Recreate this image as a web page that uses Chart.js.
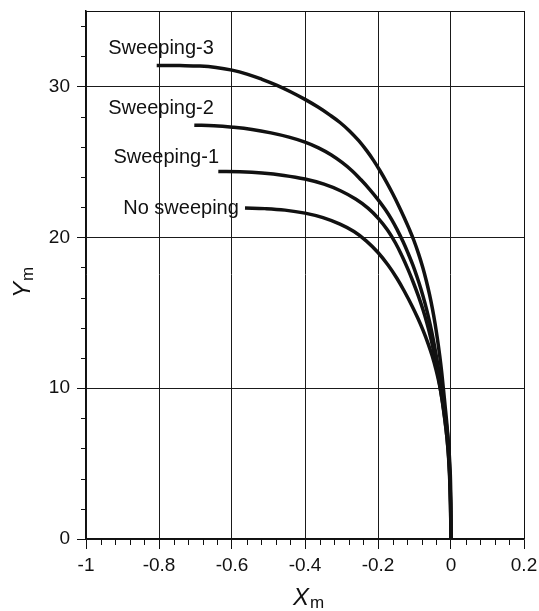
<!DOCTYPE html>
<html>
<head>
<meta charset="utf-8">
<script src="https://cdn.jsdelivr.net/npm/chart.js@4/dist/chart.umd.min.js"></script>
<style>
  html, body { margin: 0; padding: 0; background: #fff; }
</style>
</head>
<body>
<canvas id="trajChart" width="539" height="611"></canvas>
<script>
// ── Series names (also used as in-plot labels)
const seriesNames = ['Sweeping-3', 'Sweeping-2', 'Sweeping-1', 'No sweeping'];

// ── Trajectories: Xm and Ym for each case
const sweep3X = [-0.8063, -0.7425, -0.6877, -0.6438, -0.6, -0.5589, -0.5178, -0.4767, -0.4384, -0.4,
                 -0.3644, -0.3315, -0.3041, -0.2781, -0.2534, -0.2315, -0.2123, -0.1945, -0.1767, -0.16,
                 -0.1441, -0.129, -0.1148, -0.1014, -0.0888, -0.0775, -0.0677, -0.0589, -0.0507, -0.0436,
                 -0.037, -0.031, -0.0255, -0.0208, -0.0159, -0.0107, -0.0066, -0.0036, -0.0014, 0];
const sweep3Y = [31.39, 31.38, 31.35, 31.26, 31.08, 30.82, 30.47, 30.07, 29.63, 29.14,
                 28.63, 28.10, 27.61, 27.05, 26.42, 25.76, 25.10, 24.41, 23.66, 22.90,
                 22.13, 21.35, 20.57, 19.77, 18.90, 18.01, 17.12, 16.21, 15.24, 14.27,
                 13.23, 12.17, 11.06, 9.94, 8.76, 7.44, 6.05, 4.47, 2.49, 0];

const sweep2X = [-0.7033, -0.6493, -0.5973, -0.5452, -0.4932, -0.4438, -0.4, -0.363, -0.3288, -0.2986,
                 -0.2712, -0.2466, -0.223, -0.2, -0.18, -0.1625, -0.1466, -0.1315, -0.1178, -0.1049,
                 -0.0932, -0.0822, -0.0721, -0.0627, -0.0542, -0.0466, -0.0395, -0.0326, -0.0266, -0.02,
                 -0.0137, -0.0085, -0.0047, -0.0019, -0.0005, 0];
const sweep2Y = [27.43, 27.40, 27.30, 27.15, 26.92, 26.64, 26.31, 25.93, 25.47, 24.96,
                 24.41, 23.81, 23.18, 22.50, 21.84, 21.17, 20.46, 19.72, 18.96, 18.18,
                 17.38, 16.56, 15.70, 14.81, 13.90, 12.97, 12.02, 11.02, 10.00, 8.91,
                 7.82, 6.73, 5.57, 4.25, 2.60, 0];

const sweep1X = [-0.6375, -0.5781, -0.5178, -0.4575, -0.4, -0.3479, -0.3014, -0.2603, -0.2274, -0.1986,
                 -0.174, -0.1521, -0.1342, -0.1178, -0.1027, -0.089, -0.0767, -0.0658, -0.0559, -0.0471,
                 -0.0395, -0.0321, -0.0244, -0.0173, -0.0112, -0.0066, -0.0033, -0.0011, 0];
const sweep1Y = [24.36, 24.34, 24.26, 24.10, 23.86, 23.52, 23.07, 22.52, 21.93, 21.24,
                 20.48, 19.62, 18.76, 17.87, 16.97, 16.08, 15.19, 14.30, 13.37, 12.41,
                 11.42, 10.40, 9.21, 7.98, 6.76, 5.51, 4.12, 2.40, 0];

const noSweepX = [-0.5644, -0.5096, -0.4548, -0.4, -0.3507, -0.3041, -0.2658, -0.2315, -0.2, -0.1726,
                  -0.1479, -0.126, -0.1068, -0.0907, -0.0762, -0.063, -0.0512, -0.0408, -0.0315, -0.023,
                  -0.0162, -0.0107, -0.0066, -0.0036, -0.0014, 0];
const noSweepY = [21.94, 21.90, 21.80, 21.60, 21.30, 20.87, 20.38, 19.75, 18.99, 18.16,
                  17.27, 16.34, 15.45, 14.63, 13.81, 12.97, 12.11, 11.20, 10.22, 9.05,
                  7.85, 6.63, 5.37, 3.99, 2.27, 0];

// ── Axis ranges / tick steps
const xRange = [-1, 0.2];
const yRange = [0, 35];
const xMajorStep = 0.2, xMinorStep = 0.04;
const yMajorStep = 10,  yMinorStep = 2;

const INK  = '#111';
const FONT = '"Liberation Sans", Arial, Helvetica, sans-serif';

// where each curve label sits (data coords, left/baseline)
const labelAnchors = [
  { x: -0.939, y: 32.16 },
  { x: -0.939, y: 28.16 },
  { x: -0.925, y: 24.92 },
  { x: -0.898, y: 21.55 },
];

function toPoints(xs, ys) {
  return xs.map((x, i) => ({ x: x, y: ys[i] }));
}

const seriesData = [
  toPoints(sweep3X, sweep3Y),
  toPoints(sweep2X, sweep2Y),
  toPoints(sweep1X, sweep1Y),
  toPoints(noSweepX, noSweepY),
];

// ── Minor ticks, frame, curve labels and axis titles
const decorPlugin = {
  id: 'decor',
  afterDraw(chart) {
    const { ctx, chartArea: a, scales } = chart;
    const xs = scales.x, ys = scales.y;
    ctx.save();

    // minor ticks
    ctx.strokeStyle = INK;
    ctx.lineWidth = 1;
    ctx.beginPath();
    const nx = Math.floor((xRange[1] - xRange[0]) / xMinorStep + 1e-6);
    for (let i = 0; i <= nx; i++) {
      if (i % Math.round(xMajorStep / xMinorStep) === 0) continue;
      const px = Math.round(xs.getPixelForValue(xRange[0] + i * xMinorStep)) + 0.5;
      ctx.moveTo(px, a.bottom);
      ctx.lineTo(px, a.bottom + 6);
    }
    const ny = Math.floor((yRange[1] - yRange[0]) / yMinorStep + 1e-6);
    for (let i = 0; i <= ny; i++) {
      if (i % Math.round(yMajorStep / yMinorStep) === 0) continue;
      const py = Math.round(ys.getPixelForValue(yRange[0] + i * yMinorStep)) + 0.5;
      ctx.moveTo(a.left - 5, py);
      ctx.lineTo(a.left, py);
    }
    ctx.stroke();

    // top + right frame
    ctx.beginPath();
    ctx.moveTo(a.left, Math.round(a.top) + 0.5);
    ctx.lineTo(Math.round(a.right) + 0.5, Math.round(a.top) + 0.5);
    ctx.lineTo(Math.round(a.right) + 0.5, a.bottom);
    ctx.stroke();

    // curve labels
    ctx.fillStyle = INK;
    ctx.font = '20px ' + FONT;
    ctx.textAlign = 'left';
    ctx.textBaseline = 'alphabetic';
    seriesNames.forEach((name, i) => {
      const p = labelAnchors[i];
      ctx.fillText(name, xs.getPixelForValue(p.x), ys.getPixelForValue(p.y));
    });

    // X axis title: italic X with subscript m
    const bigFont = 'italic 24px ' + FONT;
    const subFont = '17px ' + FONT;
    ctx.font = bigFont;
    const wX = ctx.measureText('X').width;
    ctx.font = subFont;
    const wm = ctx.measureText('m').width;
    const x0 = (a.left + a.right) / 2 + 3 - (wX + wm) / 2;
    ctx.font = bigFont;
    ctx.fillText('X', x0, 605);
    ctx.font = subFont;
    ctx.fillText('m', x0 + wX + 1, 608);

    // Y axis title, rotated
    ctx.font = bigFont;
    const wY = ctx.measureText('Y').width;
    const yc = (a.top + a.bottom) / 2 + 8;
    ctx.translate(29.5, yc + (wY + wm) / 2);
    ctx.rotate(-Math.PI / 2);
    ctx.fillText('Y', 0, 0);
    ctx.font = subFont;
    ctx.fillText('m', wY + 1, 3.5);

    ctx.restore();
  },
};

new Chart(document.getElementById('trajChart'), {
  type: 'scatter',
  data: {
    datasets: seriesNames.map((name, i) => ({
      label: name,
      data: seriesData[i],
      showLine: true,
      borderColor: INK,
      borderWidth: 3.5,
      pointRadius: 0,
      tension: 0.4,
      fill: false,
    })),
  },
  options: {
    responsive: false,
    animation: false,
    layout: { padding: { top: 11, right: 15, left: 0, bottom: 0 } },
    plugins: {
      legend:  { display: false },
      tooltip: { enabled: false },
    },
    scales: {
      x: {
        type: 'linear',
        min: xRange[0],
        max: xRange[1],
        // fixed axis band; drop the label overhang padding so the plot edges stay put
        afterFit: s => { s.height = 72; s.paddingLeft = 0; s.paddingRight = 0; },
        ticks: {
          stepSize: xMajorStep,
          color: INK,
          padding: 5,
          font: { family: FONT, size: 19 },
          callback: v => String(Math.round(v * 10) / 10),
        },
        grid:   { color: '#1a1a1a', lineWidth: 1, tickLength: 10, tickColor: INK },
        border: { display: true, color: INK, width: 1.5 },
      },
      y: {
        type: 'linear',
        min: yRange[0],
        max: yRange[1],
        afterFit: s => { s.width = 86; s.paddingTop = 0; s.paddingBottom = 0; },
        ticks: {
          stepSize: yMajorStep,
          includeBounds: false,
          color: INK,
          padding: 7,
          font: { family: FONT, size: 19 },
          callback: v => String(v),
        },
        grid:   { color: '#1a1a1a', lineWidth: 1, tickLength: 9, tickColor: INK },
        border: { display: true, color: INK, width: 1.5 },
      },
    },
  },
  plugins: [decorPlugin],
});
</script>
</body>
</html>
